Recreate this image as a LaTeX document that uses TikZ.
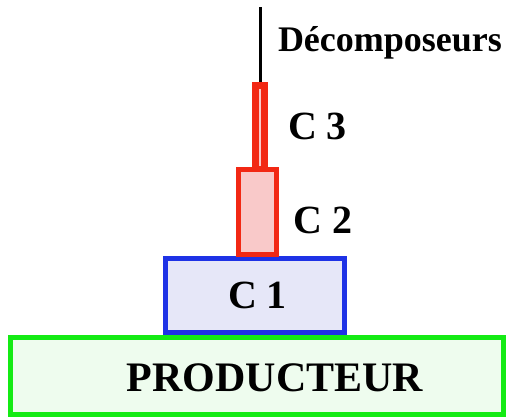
\documentclass[tikz,border=0pt]{standalone}
\usepackage{fontspec}
\setmainfont{Liberation Serif}
\definecolor{gborder}{RGB}{20,235,20}
\definecolor{gfill}{RGB}{238,252,238}
\definecolor{bborder}{RGB}{30,50,230}
\definecolor{bfill}{RGB}{230,231,248}
\definecolor{rborder}{RGB}{242,40,20}
\definecolor{rfill}{RGB}{249,201,201}
\begin{document}
\begin{tikzpicture}[x=1pt,y=-1pt,
  level/.style={draw,inner sep=0pt,outer sep=0pt,line width=5pt},
  lbl/.style={inner sep=0pt,outer sep=0pt,anchor=base,font=\bfseries\fontsize{40}{40}\selectfont}]
\useasboundingbox (0,0) rectangle (506,417);
\node[level,draw=gborder,fill=gfill,minimum width=493pt,minimum height=77pt] (prod) at (257,376) {};
\node[level,draw=bborder,fill=bfill,minimum width=179pt,minimum height=74pt] (c1) at (255,295.5) {};
\node[level,draw=rborder,fill=rfill,line width=7pt,minimum width=9pt,minimum height=84pt] (c3) at (260,127.5) {};
\node[level,draw=rborder,fill=rfill,minimum width=38pt,minimum height=85pt] (c2) at (257.5,212) {};
\coordinate (top) at (260,7);
\path (c3.north) ++(0,3.5pt) coordinate (c3top);
\draw[line width=3pt,black] (c3top) -- (top);
\node[lbl,font=\bfseries\fontsize{42}{42}\selectfont] (tprod) at (275,391) {PRODUCTEUR};
\node[lbl] (tc1) at (257.5,308) {C 1};
\node[lbl] (tc2) at (323,233) {C 2};
\node[lbl] (tc3) at (317.5,140) {C 3};
\node[lbl,anchor=base west,font=\bfseries\fontsize{36}{36}\selectfont] (tdec) at (278,52) {Décomposeurs};
\end{tikzpicture}
\end{document}
